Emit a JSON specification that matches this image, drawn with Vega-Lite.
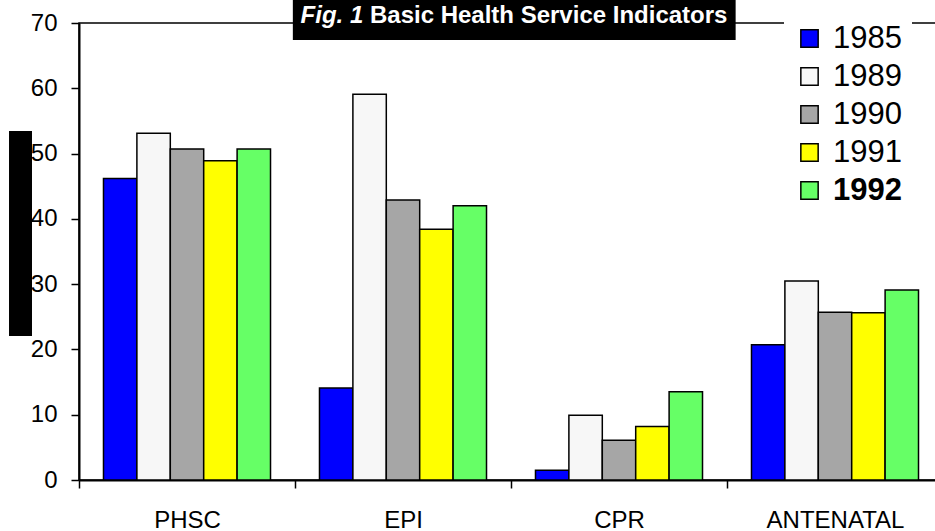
{
  "$schema": "https://vega.github.io/schema/vega-lite/v6.json",
  "width": 864,
  "height": 457,
  "autosize": {"type": "none"},
  "padding": {"left": 79, "top": 23, "right": 0, "bottom": 51},
  "background": "white",
  "config": {"view": {"stroke": "black", "strokeWidth": 1.5}, "font": "Liberation Sans"},
  "data": {"values": [
    {"indicator": "PHSC", "year": "1985", "value": 46.2},
    {"indicator": "PHSC", "year": "1989", "value": 53.1},
    {"indicator": "PHSC", "year": "1990", "value": 50.7},
    {"indicator": "PHSC", "year": "1991", "value": 48.9},
    {"indicator": "PHSC", "year": "1992", "value": 50.7},
    {"indicator": "EPI", "year": "1985", "value": 14.1},
    {"indicator": "EPI", "year": "1989", "value": 59.1},
    {"indicator": "EPI", "year": "1990", "value": 42.9},
    {"indicator": "EPI", "year": "1991", "value": 38.4},
    {"indicator": "EPI", "year": "1992", "value": 42.0},
    {"indicator": "CPR", "year": "1985", "value": 1.5},
    {"indicator": "CPR", "year": "1989", "value": 9.9},
    {"indicator": "CPR", "year": "1990", "value": 6.1},
    {"indicator": "CPR", "year": "1991", "value": 8.2},
    {"indicator": "CPR", "year": "1992", "value": 13.5},
    {"indicator": "ANTENATAL", "year": "1985", "value": 20.7},
    {"indicator": "ANTENATAL", "year": "1989", "value": 30.5},
    {"indicator": "ANTENATAL", "year": "1990", "value": 25.7},
    {"indicator": "ANTENATAL", "year": "1991", "value": 25.6},
    {"indicator": "ANTENATAL", "year": "1992", "value": 29.1}
  ]},
  "layer": [
    {
      "mark": {"type": "bar", "stroke": "black", "strokeWidth": 1.5},
      "encoding": {
        "x": {
          "field": "indicator", "type": "nominal",
          "sort": ["PHSC", "EPI", "CPR", "ANTENATAL"],
          "scale": {"paddingInner": 0, "paddingOuter": 0},
          "axis": {"title": null, "labelAngle": 0, "labelFontSize": 24, "labelColor": "black",
                   "tickBand": "extent", "tickSize": 8, "tickColor": "black", "tickWidth": 1.5,
                   "domainColor": "black", "domainWidth": 2, "labelPadding": 20}
        },
        "xOffset": {"field": "year", "type": "nominal", "scale": {"paddingInner": 0, "paddingOuter": 0.733}},
        "y": {
          "field": "value", "type": "quantitative",
          "scale": {"domain": [0, 70], "nice": false},
          "axis": {"title": null, "values": [0, 10, 20, 30, 40, 50, 60, 70], "grid": false,
                   "tickSize": 8, "tickColor": "black", "tickWidth": 1.5, "domainColor": "black",
                   "domainWidth": 2, "labelFontSize": 24, "labelColor": "black", "labelPadding": 14}
        },
        "color": {
          "field": "year", "type": "nominal",
          "scale": {"domain": ["1985", "1989", "1990", "1991", "1992"],
                    "range": ["#0000ff", "#f7f7f7", "#a6a6a6", "#ffff00", "#66ff66"]},
          "legend": {
            "title": null, "orient": "none", "legendX": 705, "legendY": -10,
            "labelFontSize": 31, "labelColor": "black", "symbolType": "square", "symbolSize": 300,
            "symbolStrokeColor": "black", "symbolStrokeWidth": 1.5, "symbolOpacity": 1, "rowPadding": 6,
            "labelOffset": 8, "padding": 10, "fillColor": "white",
            "encode": {"labels": {"update": {"fontWeight": {"signal": "datum.label === '1992' ? 'bold' : 'normal'"}}}}
          }
        }
      }
    },
    {
      "data": {"values": [{}]},
      "mark": {"type": "rect", "color": "black"},
      "encoding": {
        "x": {"datum": -0.324, "type": "quantitative", "scale": {"domain": [0, 4]}, "axis": null},
        "x2": {"datum": -0.2176},
        "y": {"datum": 22.06, "type": "quantitative", "scale": {"domain": [0, 70], "nice": false}},
        "y2": {"datum": 53.46}
      }
    },
    {
      "data": {"values": [{}]},
      "mark": {"type": "rect", "color": "black"},
      "encoding": {
        "x": {"datum": 0.99, "type": "quantitative", "scale": {"domain": [0, 4]}, "axis": null},
        "x2": {"datum": 3.04},
        "y": {"datum": 67.4, "type": "quantitative", "scale": {"domain": [0, 70], "nice": false}},
        "y2": {"datum": 73.6}
      }
    },
    {
      "data": {"values": [{}]},
      "mark": {"type": "text", "color": "white", "fontSize": 24, "fontWeight": "bold", "fontStyle": "italic", "align": "left", "baseline": "alphabetic"},
      "encoding": {
        "x": {"datum": 1.026, "type": "quantitative", "scale": {"domain": [0, 4]}, "axis": null},
        "y": {"datum": 70.0, "type": "quantitative", "scale": {"domain": [0, 70], "nice": false}},
        "text": {"value": "Fig. 1"}
      }
    },
    {
      "data": {"values": [{}]},
      "mark": {"type": "text", "color": "white", "fontSize": 24, "fontWeight": "bold", "align": "left", "baseline": "alphabetic"},
      "encoding": {
        "x": {"datum": 1.347, "type": "quantitative", "scale": {"domain": [0, 4]}, "axis": null},
        "y": {"datum": 70.0, "type": "quantitative", "scale": {"domain": [0, 70], "nice": false}},
        "text": {"value": "Basic Health Service Indicators"}
      }
    }
  ],
  "resolve": {"scale": {"x": "independent"}}
}
